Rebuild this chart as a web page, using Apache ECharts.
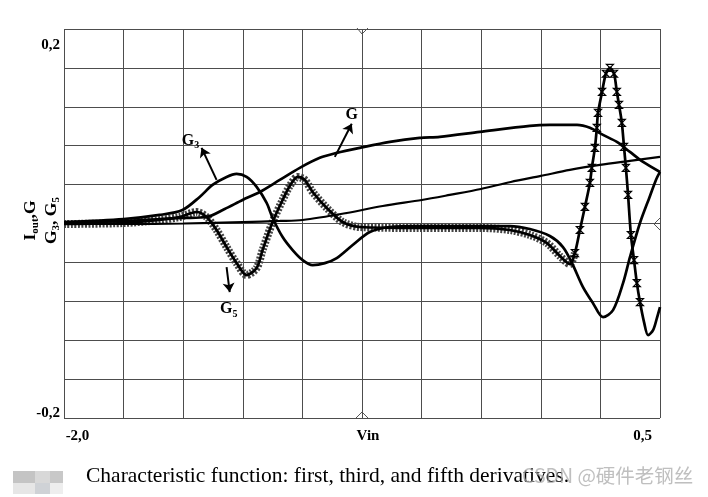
<!DOCTYPE html>
<html><head><meta charset="utf-8">
<script src="https://cdn.jsdelivr.net/npm/echarts/dist/echarts.min.js"></script>
<style>html,body{margin:0;padding:0;background:#fff}#c{width:708px;height:497px}</style>
</head><body><div id="c"></div>
<script>
// ---- data (Vin in V, outputs in axis units) ----
const vinIout = [-2.0, -1.75, -1.498, -1.251, -1.095, -0.999, -0.814, -0.663, -0.499, -0.382, -0.251, -0.126, 0.0, 0.122, 0.248, 0.374, 0.5];
const iout    = [-0.0005, -0.0005, 0, 0.0015, 0.0026, 0.0036, 0.0108, 0.0180, 0.0242, 0.0294, 0.0355, 0.0427, 0.0489, 0.0551, 0.0602, 0.0644, 0.0685];

const vinG = [-2.0, -1.75, -1.599, -1.503, -1.402, -1.326, -1.251, -1.179, -1.095, -1.011, -0.927, -0.856, -0.759, -0.633, -0.508, -0.424, -0.256, -0.046, 0.038, 0.152, 0.206, 0.261, 0.319, 0.374, 0.429, 0.5];
const g    = [0.0005, 0.0026, 0.0046, 0.0057, 0.0067, 0.0149, 0.0242, 0.0324, 0.0448, 0.0572, 0.0675, 0.0726, 0.0778, 0.0839, 0.0880, 0.0891, 0.0942, 0.1004, 0.1014, 0.1014, 0.0984, 0.0911, 0.0839, 0.0736, 0.0633, 0.0530];

const vinG3 = [-2.0, -1.75, -1.599, -1.503, -1.431, -1.377, -1.318, -1.276, -1.234, -1.192, -1.150, -1.125, -1.083, -1.041, -0.999, -0.957, -0.906, -0.856, -0.789, -0.717, -0.633, -0.508, -0.256, -0.130, -0.046, 0.038, 0.093, 0.131, 0.177, 0.219, 0.261, 0.303, 0.345, 0.374, 0.416, 0.458, 0.483, 0.5];
const g3    = [0.0015, 0.0046, 0.0088, 0.0139, 0.0273, 0.0397, 0.0479, 0.0510, 0.0479, 0.0376, 0.0211, 0.0057, -0.0139, -0.0273, -0.0376, -0.0427, -0.0407, -0.0355, -0.0221, -0.0088, -0.0036, -0.0026, -0.0026, -0.0026, -0.0057, -0.0129, -0.0242, -0.0407, -0.0654, -0.0819, -0.0963, -0.0891, -0.0613, -0.0345, 0.0005, 0.0283, 0.0448, 0.0530];

const vinG5 = [-2.0, -1.75, -1.599, -1.515, -1.444, -1.402, -1.360, -1.318, -1.276, -1.234, -1.192, -1.167, -1.125, -1.083, -1.053, -1.020, -0.990, -0.957, -0.898, -0.831, -0.759, -0.508, -0.256, -0.130, -0.046, 0.026, 0.080, 0.122, 0.143, 0.164, 0.185, 0.206, 0.214, 0.227, 0.235, 0.240, 0.257, 0.273, 0.290, 0.307, 0.319, 0.328, 0.340, 0.349, 0.357, 0.366, 0.378, 0.391, 0.403, 0.416, 0.433, 0.450, 0.471, 0.487, 0.5];
const g5    = [-0.0005, 0.0005, 0.0036, 0.0067, 0.0118, 0.0067, -0.0067, -0.0242, -0.0407, -0.0530, -0.0458, -0.0273, 0.0015, 0.0242, 0.0386, 0.0479, 0.0448, 0.0324, 0.0160, 0.0015, -0.0036, -0.0046, -0.0046, -0.0067, -0.0118, -0.0201, -0.0335, -0.0417, -0.0304, -0.0067, 0.0170, 0.0417, 0.0572, 0.0778, 0.0984, 0.1138, 0.1354, 0.1540, 0.1601, 0.1540, 0.1354, 0.1220, 0.1035, 0.0788, 0.0572, 0.0294, -0.0118, -0.0376, -0.0613, -0.0808, -0.1014, -0.1148, -0.1097, -0.0973, -0.0860];

const xTickLabels = ['-2,0', '0,5'];
const yTickLabels = ['-0,2', '0,2'];
const xName = 'Vin';
const caption = 'Characteristic function: first, third, and fifth derivatives.';
const watermark = 'CSDN @硬件老钢丝';

// ---- build ----
const zip = (xs, ys) => xs.map((x, i) => [x, ys[i]]);
const serif = 'Liberation Serif';
const hourglass = 'path://M0,0L10,0L0,10L10,10Z';
const near = (a, b) => Math.abs(a - b) < 1e-6;

const chart = echarts.init(document.getElementById('c'), null, {renderer: 'canvas'});
const boldSerif = {fontFamily: serif, fontWeight: 'bold', fontSize: 15, color: '#000'};

const option = {
  animation: false,
  backgroundColor: '#fff',
  grid: {left: 64, top: 29, width: 596, height: 389, containLabel: false, outerBoundsMode: 'none'},
  xAxis: {
    type: 'value', min: -2, max: 0.5, interval: 0.25,
    axisLine: {show: false}, axisTick: {show: false},
    splitLine: {lineStyle: {color: '#4d4d4d', width: 1}},
    axisLabel: {
      margin: 11, ...boldSerif,
      formatter: v => near(v, -2) ? '{l|' + xTickLabels[0] + '}' : near(v, 0.5) ? '{r|' + xTickLabels[1] + '}' : '',
      rich: {
        l: {...boldSerif, padding: [0, 0, 0, 27]},
        r: {...boldSerif, padding: [0, 35, 0, 0]}
      }
    },
    name: xName, nameLocation: 'middle', nameGap: 11, nameMoveOverlap: false,
    nameTextStyle: {...boldSerif, verticalAlign: 'top', padding: [0, 0, 0, 12]}
  },
  yAxis: {
    type: 'value', min: -0.2, max: 0.2, interval: 0.04,
    axisLine: {show: false}, axisTick: {show: false},
    splitLine: {lineStyle: {color: '#4d4d4d', width: 1}},
    axisLabel: {
      margin: 4, ...boldSerif,
      formatter: v => near(v, 0.2) ? '{t|' + yTickLabels[1] + '}' : near(v, -0.2) ? '{b|' + yTickLabels[0] + '}' : '',
      rich: {
        t: {...boldSerif, padding: [32, 0, 0, 0]},
        b: {...boldSerif, padding: [0, 0, 10, 0]}
      }
    },
    name: '{m|I}{s|out}{m|,G}\n{m|G}{s|3}{m|, G}{s|5}',
    nameLocation: 'middle', nameRotate: 90, nameGap: 2, nameMoveOverlap: false,
    nameTextStyle: {
      ...boldSerif,
      padding: [0, 0, 0, 6],
      rich: {
        m: {fontFamily: serif, fontWeight: 'bold', fontSize: 17.5, lineHeight: 21, color: '#000'},
        s: {fontFamily: serif, fontWeight: 'bold', fontSize: 11, lineHeight: 10, verticalAlign: 'bottom', color: '#000'}
      }
    }
  },
  series: [
    { // hatched marker band of G5 (dense markers)
      type: 'line', data: zip(vinG5, g5).filter(p => p[0] <= 0.15),
      smooth: 0.3, symbol: 'none', silent: true,
      lineStyle: {color: '#444', width: 8, type: [2, 1.5]}
    },
    {
      name: 'Iout', type: 'line', data: zip(vinIout, iout), smooth: 0.3, symbol: 'none',
      lineStyle: {color: '#000', width: 2.2}
    },
    {
      name: 'G', type: 'line', data: zip(vinG, g), smooth: 0.3, symbol: 'none',
      lineStyle: {color: '#000', width: 2.7},
      markLine: {
        silent: true, symbol: ['none', 'arrow'], symbolSize: 9,
        label: {show: false},
        lineStyle: {color: '#000', width: 2, type: 'solid'},
        data: [
          [{coord: [-1.360, 0.0448]}, {coord: [-1.423, 0.0778]}],
          [{coord: [-0.864, 0.0685]}, {coord: [-0.793, 0.1025]}],
          [{coord: [-1.318, -0.0448]}, {coord: [-1.305, -0.0705]}]
        ]
      },
      markPoint: {
        silent: true, symbol: 'circle', symbolSize: 0,
        label: {
          show: true, position: 'inside',
          rich: {
            m: {fontFamily: serif, fontWeight: 'bold', fontSize: 16, lineHeight: 20, color: '#000'},
            s: {fontFamily: serif, fontWeight: 'bold', fontSize: 10, lineHeight: 10, verticalAlign: 'bottom', color: '#000'}
          }
        },
        data: [
          {coord: [-1.469, 0.0850], label: {formatter: '{m|G}{s|3}'}},
          {coord: [-0.793, 0.1117], label: {formatter: '{m|G}'}},
          {coord: [-1.309, -0.0881], label: {formatter: '{m|G}{s|5}'}}
        ]
      }
    },
    {
      name: 'G3', type: 'line', data: zip(vinG3, g3), smooth: 0.3, symbol: 'none',
      lineStyle: {color: '#000', width: 2.7}
    },
    {
      name: 'G5', type: 'line', data: zip(vinG5, g5), smooth: 0.3,
      symbol: v => (v[0] >= 0.14 && v[0] <= 0.42) ? hourglass : 'none',
      symbolSize: 7, showAllSymbol: true,
      itemStyle: {color: 'rgba(255,255,255,0)', borderColor: '#000', borderWidth: 1.2},
      lineStyle: {color: '#000', width: 2.7}
    }
  ],
  graphic: [
    {type: 'polyline', shape: {points: [[357, 28], [362, 34], [368, 28]]}, style: {stroke: '#555', lineWidth: 1, fill: null}},
    {type: 'polyline', shape: {points: [[356, 418], [362, 412], [368, 418]]}, style: {stroke: '#555', lineWidth: 1, fill: null}},
    {type: 'polyline', shape: {points: [[660, 218], [654, 224], [660, 230]]}, style: {stroke: '#555', lineWidth: 1, fill: null}},
    {type: 'rect', shape: {x: 13, y: 471, width: 22, height: 12}, style: {fill: '#c4c4c4'}},
    {type: 'rect', shape: {x: 35, y: 471, width: 15, height: 12}, style: {fill: '#d8d8d8'}},
    {type: 'rect', shape: {x: 50, y: 471, width: 13, height: 12}, style: {fill: '#c8c8c8'}},
    {type: 'rect', shape: {x: 13, y: 483, width: 22, height: 11}, style: {fill: '#e6e6e6'}},
    {type: 'rect', shape: {x: 35, y: 483, width: 15, height: 11}, style: {fill: '#cfd2d6'}},
    {type: 'rect', shape: {x: 50, y: 483, width: 13, height: 11}, style: {fill: '#eeeeee'}},
    {type: 'text', left: 86, top: 465, style: {text: caption, font: '21.5px "Liberation Serif"', fill: '#000'}},
    {type: 'text', left: 522, top: 466, style: {text: watermark, font: '19.5px "Noto Sans CJK SC"', fill: 'rgba(170,170,170,0.75)'}}
  ]
};
chart.setOption(option);
</script>
</body></html>
